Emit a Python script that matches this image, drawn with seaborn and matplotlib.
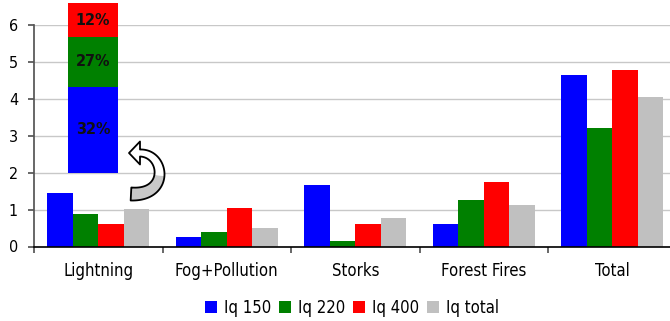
import matplotlib
matplotlib.use("Agg")
import matplotlib.pyplot as plt
import seaborn as sns
import pandas as pd
import numpy as np
from matplotlib.patches import Polygon, Patch

categories = ["Lightning", "Fog+Pollution", "Storks", "Forest Fires", "Total"]
series = ["Iq 150", "Iq 220", "Iq 400", "Iq total"]
iq150 = [1.46, 0.26, 1.67, 0.61, 4.64]
iq220 = [0.88, 0.39, 0.15, 1.25, 3.22]
iq400 = [0.60, 1.05, 0.61, 1.74, 4.78]
iqtotal = [1.01, 0.49, 0.77, 1.12, 4.05]
colors = ["#0000FF", "#008000", "#FF0000", "#C0C0C0"]

# inset stacked bar (shares of Lightning)
inset_base = 2.0
inset_heights = [2.33, 1.35, 0.92]
inset_labels = ["32%", "27%", "12%"]

rows = []
for s, vals in zip(series, [iq150, iq220, iq400, iqtotal]):
    for c, v in zip(categories, vals):
        rows.append({"cat": c, "series": s, "value": v})
df = pd.DataFrame(rows)

sns.set_theme(style="white")
plt.rcParams['font.family'] = ['DejaVu Sans']
plt.rcParams['font.stretch'] = 'condensed'
plt.rcParams['text.color'] = 'black'
plt.rcParams['xtick.color'] = 'black'
plt.rcParams['ytick.color'] = 'black'

W, H = 670, 321
fig = plt.figure(figsize=(W / 100, H / 100), dpi=100)
ax = fig.add_axes([34/W, 1-246.5/H, 5*128.5/W, (246.5-25.3)/H])

sns.barplot(data=df, x="cat", y="value", hue="series", palette=colors,
            width=0.79, linewidth=0, ax=ax, legend=False, saturation=1)

ax.set_xlim(-0.5, 4.5)
ax.set_ylim(0, 6)
ax.set_yticks(range(0, 7))
ax.set_ylabel("")
ax.set_xlabel("")
ax.yaxis.grid(True, color="#C8C8C8", linewidth=1)
ax.set_axisbelow(True)
for side in ["top", "right"]:
    ax.spines[side].set_visible(False)
ax.spines["left"].set_color("#555555")
ax.spines["bottom"].set_color("black")
ax.spines["bottom"].set_linewidth(1.2)

ax.set_xticks(np.arange(-0.5, 4.6, 1.0))
ax.set_xticklabels([])
ax.set_xticks(np.arange(5), minor=True)
ax.set_xticklabels(categories, minor=True, fontsize=12)
ax.tick_params(axis="x", which="major", length=4, direction="out", color="#555555", bottom=True)
ax.tick_params(axis="x", which="minor", length=0, pad=11.5)
ax.tick_params(axis="y", length=4, direction="out", color="#555555", left=True, pad=7.5, labelsize=11.5)

# inset stacked bar
bottom = inset_base
for h, col, lab in zip(inset_heights, colors[:3], inset_labels):
    ax.bar([-0.04], [h], bottom=bottom, width=0.39, color=col, linewidth=0, clip_on=False, zorder=5)
    ax.text(-0.04, bottom + h / 2, lab, ha="center", va="center",
            fontsize=11.5, fontweight="bold", color="#111111", zorder=6, clip_on=False)
    bottom += h

# curved U-turn arrow (decoration), built in pixel space
P = np.array([[131, 194], [170, 196], [165, 153], [140, 153]], float)
t = np.linspace(0, 1, 80)[:, None]
curve = ((1-t)**3)*P[0] + 3*((1-t)**2)*t*P[1] + 3*(1-t)*(t**2)*P[2] + (t**3)*P[3]
deriv = 3*((1-t)**2)*(P[1]-P[0]) + 6*(1-t)*t*(P[2]-P[1]) + 3*(t**2)*(P[3]-P[2])
tang = deriv / np.linalg.norm(deriv, axis=1, keepdims=True)
norm = np.column_stack([-tang[:, 1], tang[:, 0]])
half = (6.5 * (1 - t) + 3.5 * t)
side_a = curve + norm * half
side_b = curve - norm * half
d_end = tang[-1]
n_end = norm[-1]
tip = P[3] + d_end * 11
head = [P[3] + n_end * 11.5, tip, P[3] - n_end * 11.5]

def to_fig(pts):
    pts = np.asarray(pts)
    return np.column_stack([pts[:, 0] / W, 1 - pts[:, 1] / H])

split = 38
grey_poly = np.vstack([side_a[:split + 1], side_b[:split + 1][::-1]])
white_poly = np.vstack([side_a[split:], [head[0], head[1], head[2]], side_b[split:][::-1]])
outline = np.vstack([side_a, [head[0], head[1], head[2]], side_b[::-1]])
fig.patches.append(Polygon(to_fig(grey_poly), closed=True, transform=fig.transFigure,
                           fc="#C8C8C8", ec="none", zorder=7))
fig.patches.append(Polygon(to_fig(white_poly), closed=True, transform=fig.transFigure,
                           fc="white", ec="none", zorder=7))
fig.patches.append(Polygon(to_fig(outline), closed=True, transform=fig.transFigure,
                           fc="none", ec="black", lw=1.3, joinstyle="round", zorder=8))

handles = [Patch(facecolor=c, edgecolor="none") for c in colors]
fig.legend(handles, series, loc="center", bbox_to_anchor=(352/W, 1-308/H),
           ncol=4, frameon=False, fontsize=12, handlelength=0.72, handleheight=0.72,
           handletextpad=0.42, columnspacing=0.48, borderaxespad=0, borderpad=0)

fig.savefig("out.png", dpi=100)
